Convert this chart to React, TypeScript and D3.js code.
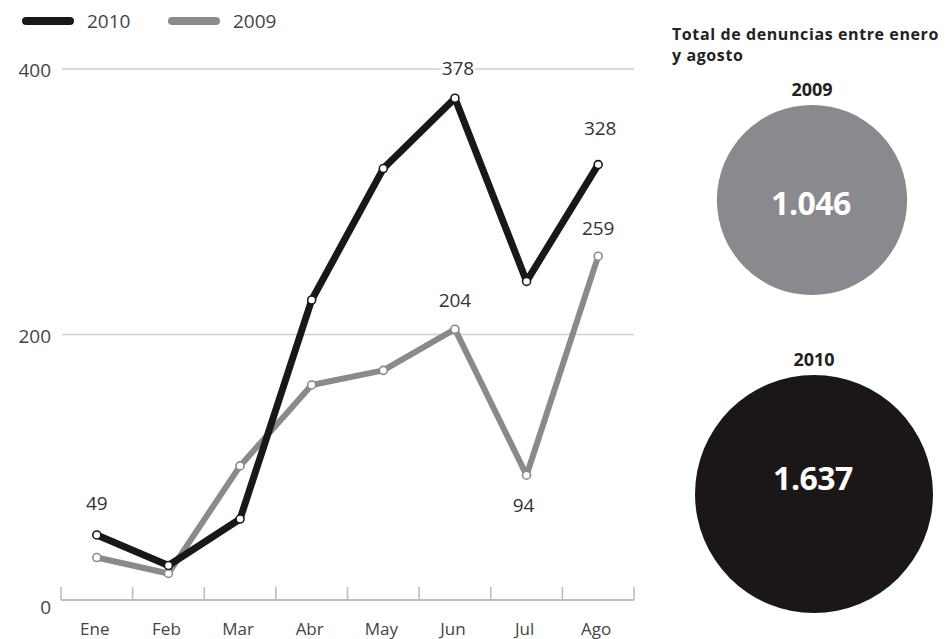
import React, { useEffect, useRef } from 'react';
import * as d3 from 'd3';

const months = ['Ene', 'Feb', 'Mar', 'Abr', 'May', 'Jun', 'Jul', 'Ago'];
const values2010 = [49, 26, 61, 226, 325, 378, 240, 328];
const values2009 = [32, 20, 101, 162, 173, 204, 94, 259];
const yTicks = [0, 200, 400];

// which points carry a number, and on which side
const pointLabels = [
  { series: '2010', month: 'Ene', dy: -32, dx: 0 },
  { series: '2010', month: 'Jun', dy: -30, dx: 3 },
  { series: '2010', month: 'Ago', dy: -37, dx: 2 },
  { series: '2009', month: 'Jun', dy: -29, dx: 0 },
  { series: '2009', month: 'Jul', dy: 30, dx: -3 },
  { series: '2009', month: 'Ago', dy: -28, dx: 0 },
];

const totalYears = ['2009', '2010'];
const totalValues = [1046, 1637];
const totalLabels = ['1.046', '1.637'];

const COLOR_2010 = '#1b1718';
const COLOR_2009 = '#8a8a8e';
const FONT = '"Open Sans", sans-serif';

const App: React.FC = () => {
  const svgRef = useRef<SVGSVGElement>(null);

  useEffect(() => {
    if (!svgRef.current) return;
    const svg = d3.select(svgRef.current);
    svg.selectAll('*').remove();

    const x = d3.scaleBand<string>().domain(months).range([61, 634]);
    const y = d3.scaleLinear().domain([0, 400]).range([600, 69]);
    const cx = (m: string) => (x(m) as number) + x.bandwidth() / 2;

    // grid lines
    svg.append('g')
      .selectAll('line')
      .data(yTicks.filter(t => t > 0))
      .enter()
      .append('line')
      .attr('x1', 62)
      .attr('x2', 634)
      .attr('y1', d => y(d))
      .attr('y2', d => y(d))
      .attr('stroke', '#cfcfcf')
      .attr('stroke-width', 1.6);

    // y labels
    svg.append('g')
      .selectAll('text')
      .data(yTicks)
      .enter()
      .append('text')
      .attr('x', 51)
      .attr('y', d => y(d) + (d === 0 ? 7 : 1))
      .attr('text-anchor', 'end')
      .attr('dominant-baseline', 'central')
      .style('font-family', FONT)
      .style('font-size', '19px')
      .style('fill', '#444')
      .text(d => d);

    // x axis: baseline + ticks at band edges
    svg.append('line')
      .attr('x1', 61)
      .attr('x2', 634)
      .attr('y1', y(0))
      .attr('y2', y(0))
      .attr('stroke', '#bdbdbd')
      .attr('stroke-width', 2);

    const edges = months.map(m => x(m) as number).concat([634]);
    svg.append('g')
      .selectAll('line')
      .data(edges)
      .enter()
      .append('line')
      .attr('x1', d => d)
      .attr('x2', d => d)
      .attr('y1', y(0))
      .attr('y2', y(0) - 13)
      .attr('stroke', '#bdbdbd')
      .attr('stroke-width', 1.6);

    svg.append('g')
      .selectAll('text')
      .data(months)
      .enter()
      .append('text')
      .attr('x', d => cx(d) - 2)
      .attr('y', 628)
      .attr('text-anchor', 'middle')
      .attr('dominant-baseline', 'central')
      .style('font-family', FONT)
      .style('font-size', '17px')
      .style('fill', '#444')
      .text(d => d);

    const line = d3.line<number>()
      .x((_, i) => cx(months[i]))
      .y(d => y(d));

    const series = [
      { name: '2009', values: values2009, color: COLOR_2009, width: 6 },
      { name: '2010', values: values2010, color: COLOR_2010, width: 7 },
    ];

    series.forEach(s => {
      svg.append('path')
        .datum(s.values)
        .attr('fill', 'none')
        .attr('stroke', s.color)
        .attr('stroke-width', s.width)
        .attr('stroke-linejoin', 'round')
        .attr('d', line);

      svg.append('g')
        .selectAll('circle')
        .data(s.values)
        .enter()
        .append('circle')
        .attr('cx', (_, i) => cx(months[i]))
        .attr('cy', d => y(d))
        .attr('r', 4)
        .attr('fill', '#fff')
        .attr('stroke', s.color)
        .attr('stroke-width', 1.6);
    });

    // value labels with a white halo so the grid line breaks round them
    svg.append('g')
      .selectAll('text')
      .data(pointLabels)
      .enter()
      .append('text')
      .attr('x', d => cx(d.month) + d.dx)
      .attr('y', d => {
        const vals = d.series === '2010' ? values2010 : values2009;
        return y(vals[months.indexOf(d.month)]) + d.dy;
      })
      .attr('text-anchor', 'middle')
      .attr('dominant-baseline', 'central')
      .style('font-family', FONT)
      .style('font-size', '19px')
      .style('fill', '#333')
      .style('stroke', '#fff')
      .style('stroke-width', 5)
      .style('paint-order', 'stroke')
      .text(d => {
        const vals = d.series === '2010' ? values2010 : values2009;
        return vals[months.indexOf(d.month)];
      });

    // legend
    const legend = svg.append('g');
    [
      { name: '2010', color: COLOR_2010, x0: 23 },
      { name: '2009', color: COLOR_2009, x0: 169 },
    ].forEach(l => {
      legend.append('line')
        .attr('x1', l.x0 + 3)
        .attr('x2', l.x0 + 47)
        .attr('y1', 21)
        .attr('y2', 21)
        .attr('stroke', l.color)
        .attr('stroke-width', 8)
        .attr('stroke-linecap', 'round');
      legend.append('text')
        .attr('x', l.x0 + 64)
        .attr('y', 21)
        .attr('dominant-baseline', 'central')
        .style('font-family', FONT)
        .style('font-size', '19px')
        .style('fill', '#444')
        .text(l.name);
    });

    // totals panel, two separate lines of title
    [
      { text: 'Total de denuncias entre enero', y: 40 },
      { text: 'y agosto', y: 61 },
    ].forEach(t => {
      svg.append('text')
        .attr('x', 672)
        .attr('y', t.y)
        .style('font-family', FONT)
        .style('font-size', '16px')
        .style('font-weight', 700)
        .style('letter-spacing', '0.6px')
        .style('fill', '#222')
        .text(t.text);
    });

    const r = d3.scaleSqrt().domain([0, 1637]).range([0, 119]);
    const centers = [
      { cx: 812, cy: 200, labelY: 89, color: COLOR_2009 },
      { cx: 814, cy: 494, labelY: 359, color: COLOR_2010 },
    ];

    totalYears.forEach((yr, i) => {
      const c = centers[i];
      svg.append('text')
        .attr('x', c.cx)
        .attr('y', c.labelY)
        .attr('text-anchor', 'middle')
        .attr('dominant-baseline', 'central')
        .style('font-family', FONT)
        .style('font-size', '18px')
        .style('font-weight', 700)
        .style('fill', '#222')
        .text(yr);
      svg.append('circle')
        .attr('cx', c.cx)
        .attr('cy', c.cy)
        .attr('r', r(totalValues[i]))
        .attr('fill', c.color);
      svg.append('text')
        .attr('x', c.cx - 1)
        .attr('y', i === 0 ? c.cy + 2 : c.cy - 17)
        .attr('text-anchor', 'middle')
        .attr('dominant-baseline', 'central')
        .style('font-family', FONT)
        .style('font-size', '32px')
        .style('font-weight', 700)
        .style('letter-spacing', '-0.5px')
        .style('fill', '#fff')
        .text(totalLabels[i]);
    });
  }, []);

  return (
    <svg
      ref={svgRef}
      width={947}
      height={639}
      style={{ position: 'absolute', left: 0, top: 0, background: '#fff' }}
    />
  );
};

export default App;
